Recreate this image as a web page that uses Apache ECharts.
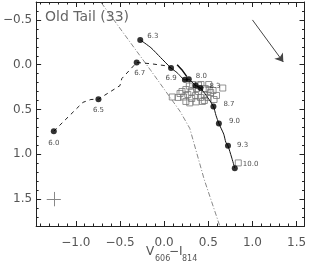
<!DOCTYPE html>
<html><head><meta charset="utf-8">
<script src="https://cdn.jsdelivr.net/npm/echarts@6/dist/echarts.min.js"></script>
<style>html,body{margin:0;padding:0;background:#fff}#c{width:309px;height:265px}</style>
</head><body><div id="c"></div>
<script>
const xTicks = [-1.0, -0.5, 0.0, 0.5, 1.0, 1.5];
const yTicks = [-0.5, 0.0, 0.5, 1.0, 1.5];
const xMinor = [-1.4,-1.3,-1.2,-1.1,-0.9,-0.8,-0.7,-0.6,-0.4,-0.3,-0.2,-0.1,0.1,0.2,0.3,0.4,0.6,0.7,0.8,0.9,1.1,1.2,1.3,1.4];
const yMinor = [-0.6,-0.4,-0.3,-0.2,-0.1,0.1,0.2,0.3,0.4,0.6,0.7,0.8,0.9,1.1,1.2,1.3,1.4,1.6,1.7];

// old (solid) model track
const oldTrack = [[-0.271,-0.277],[-0.15,-0.19],[-0.04,-0.08],[0.078,0.037],[0.147,0.089],[0.235,0.169],[0.279,0.163],[0.356,0.233],[0.411,0.26],[0.477,0.343],[0.558,0.465],[0.587,0.565],[0.62,0.657],[0.675,0.775],[0.698,0.864],[0.723,0.905],[0.763,1.03],[0.80,1.155]];
const oldLoop = [[0.147,0.0],[0.20,0.055],[0.257,0.133]];
const oldAges = [[-0.271,-0.277,'6.3'],[0.078,0.037,'6.9'],[0.235,0.169,''],[0.279,0.163,'8.0'],[0.356,0.233,''],[0.411,0.26,'8.3'],[0.558,0.465,'8.7'],[0.62,0.657,'9.0'],[0.723,0.905,'9.3'],[0.80,1.155,'10.0']];

// young (dashed) model track
const youngTrack = [[-1.25,0.742],[-0.92,0.42],[-0.83,0.388],[-0.744,0.384],[-0.50,0.233],[-0.48,0.155],[-0.311,-0.025],[-0.15,-0.011],[0.015,0.011],[0.078,0.037]];
const youngAges = [[-1.25,0.742,'6.0'],[-0.744,0.384,'6.5'],[-0.311,-0.025,'6.7']];

// dash-dot boundary line
const boundary = [[-0.711,-0.69],[-0.15,0.066],[0.18,0.52],[0.29,0.71],[0.455,1.285],[0.63,1.80]];

// observed clusters (open squares)
const clusters = [[0.092,0.36],[0.158,0.365],[0.219,0.36],[0.268,0.332],[0.307,0.305],[0.285,0.238],[0.323,0.221],[0.356,0.343],[0.389,0.299],[0.411,0.365],[0.417,0.221],[0.455,0.338],[0.455,0.399],[0.494,0.365],[0.505,0.221],[0.51,0.277],[0.527,0.31],[0.593,0.343],[0.664,0.26],[0.29,0.426],[0.362,0.415],[0.433,0.41],[0.246,0.277],[0.367,0.266],[0.554,0.288],[0.202,0.299],[0.466,0.266],[0.312,0.377],[0.84,1.096],[0.246,0.41],[0.565,0.388],[0.18,0.321],[0.389,0.227]];

// reddening vector and error cross
const arrow = [[1.0,-0.5],[1.35,-0.03]];
const errCenter = [-1.25, 1.5];
const errHalf = [0.08, 0.08];

const fmt = v => (v < 0 ? '\u2212' : '') + Math.abs(v).toFixed(1);
const axisCol = '#222';
const labCol = '#555';

function xAx(pos, ticks, len, labels, line) {
  return { type:'value', position:pos, min:-1.45, max:1.59,
    axisLine:{show:line, onZero:false, lineStyle:{color:axisCol, width:1}},
    axisTick:{show:true, inside:true, length:len, customValues:ticks, lineStyle:{color:axisCol}},
    axisLabel:{show:labels, customValues:ticks, formatter:fmt, color:labCol, fontSize:12, fontFamily:'DejaVu Sans', margin:11},
    splitLine:{show:false} };
}
function yAx(pos, ticks, len, labels, line) {
  return { type:'value', position:pos, min:-0.7, max:1.8, inverse:true,
    axisLine:{show:line, onZero:false, lineStyle:{color:axisCol, width:1}},
    axisTick:{show:true, inside:true, length:len, customValues:ticks, lineStyle:{color:axisCol}},
    axisLabel:{show:labels, customValues:ticks, formatter:fmt, color:labCol, fontSize:12, fontFamily:'DejaVu Sans', margin:4},
    splitLine:{show:false} };
}

const chart = echarts.init(document.getElementById('c'), null, {renderer:'canvas'});
const lab = (pos, dx, dy) => ({show:true, position:pos, offset:[dx,dy], fontSize:7, color:'#222', fontFamily:'DejaVu Sans'});
const oldLabelPos = {'6.3':['right',-1,-4],'6.9':['bottom',0,-1],'8.0':['right',-1,-3],'8.3':['right',1,-2],'8.7':['right',2,-2],'9.0':['right',2,-2],'9.3':['right',1,-1],'10.0':['right',0,-4]};
const youngLabelPos = {'6.0':['bottom',0,0],'6.5':['bottom',0,0],'6.7':['bottom',3,-1]};
const tx = (l, t, s, fs) => ({type:'text', left:l, top:t, silent:true, style:{text:s, fontSize:fs, fill:labCol, fontFamily:'DejaVu Sans'}});

chart.setOption({
  animation:false,
  grid:{left:32, right:1, top:2, bottom:39},
  xAxis:[xAx('bottom', xTicks, 5, true, true), xAx('bottom', xMinor, 2.5, false, false), xAx('top', xTicks, 5, false, true), xAx('top', xMinor, 2.5, false, false)],
  yAxis:[yAx('left', yTicks, 5, true, true), yAx('left', yMinor, 2.5, false, false), yAx('right', yTicks, 5, false, true), yAx('right', yMinor, 2.5, false, false)],
  graphic:[
    {type:'text', left:45, top:10, silent:true, style:{text:'Old Tail (33)', fontSize:14, fill:'#666', fontFamily:'DejaVu Sans'}},
    tx(146, 246, 'V', 12),
    tx(155, 255, '606', 8),
    tx(169, 246, '\u2212I', 12),
    tx(182, 255, '814', 8)
  ],
  series:[
    {type:'line', data:boundary, showSymbol:false, symbol:'none', lineStyle:{color:'#888', width:1, type:[5,2,1,2]}, z:1},
    {type:'scatter', data:clusters, symbol:'rect', symbolSize:6, itemStyle:{color:'rgba(255,255,255,0)', borderColor:'#777', borderWidth:1}, z:2},
    {type:'line', data:youngTrack, showSymbol:false, symbol:'none', lineStyle:{color:'#222', width:1, type:[4,4]}, z:3},
    {type:'line', data:oldTrack, showSymbol:false, symbol:'none', smooth:0.2, lineStyle:{color:'#111', width:1}, z:3},
    {type:'line', data:oldLoop, showSymbol:false, symbol:'none', lineStyle:{color:'#111', width:1.5}, z:3},
    {type:'scatter', symbol:'circle', symbolSize:6, itemStyle:{color:'#000'}, z:4,
      data:oldAges.map(d => ({value:[d[0],d[1]], label: d[2] ? Object.assign(lab(oldLabelPos[d[2]][0], oldLabelPos[d[2]][1], oldLabelPos[d[2]][2]), {formatter:d[2]}) : {show:false}}))},
    {type:'scatter', symbol:'circle', symbolSize:6, itemStyle:{color:'#000'}, z:4,
      data:youngAges.map(d => ({value:[d[0],d[1]], label:Object.assign(lab(youngLabelPos[d[2]][0], youngLabelPos[d[2]][1], youngLabelPos[d[2]][2]), {formatter:d[2]})}))},
    {type:'lines', coordinateSystem:'cartesian2d', symbol:['none','arrow'], symbolSize:[0,8], lineStyle:{color:'#444', width:1, opacity:1}, data:[{coords:arrow}], z:3},
    {type:'lines', coordinateSystem:'cartesian2d', lineStyle:{color:'#888', width:1, opacity:1}, z:3,
      data:[{coords:[[errCenter[0]-errHalf[0], errCenter[1]],[errCenter[0]+errHalf[0], errCenter[1]]]},
            {coords:[[errCenter[0], errCenter[1]-errHalf[1]],[errCenter[0], errCenter[1]+errHalf[1]]]}]}
  ]
});
</script></body></html>
